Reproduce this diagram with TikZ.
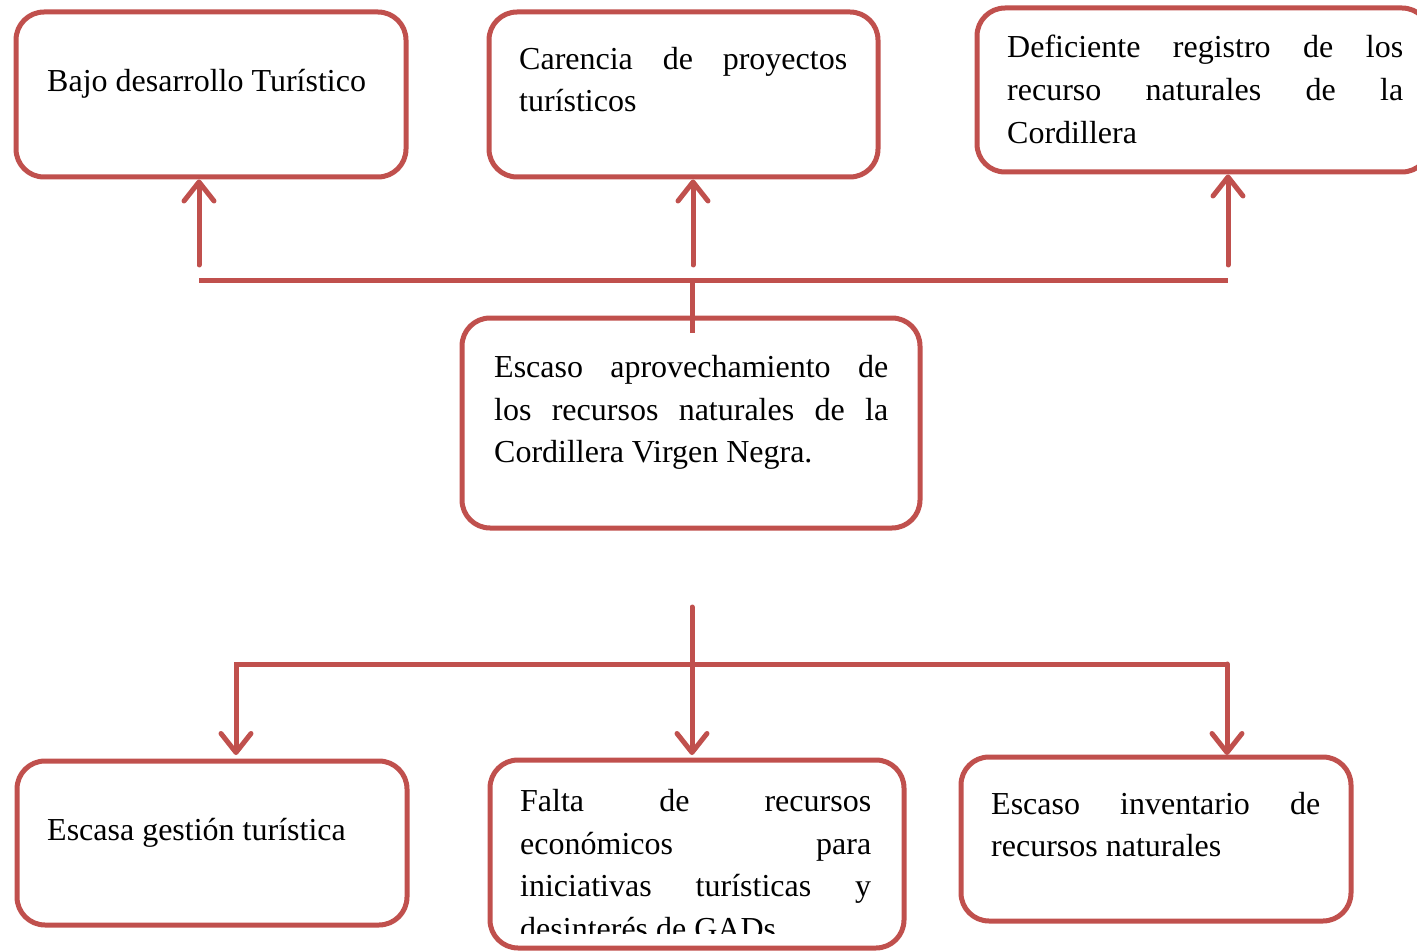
\documentclass[tikz,border=0pt]{standalone}
\usepackage{fontspec}
\setmainfont{Liberation Serif}
\usetikzlibrary{arrows.meta}
\definecolor{accred}{HTML}{C0504D}
\begin{document}
\begin{tikzpicture}[x=1pt,y=-1pt,
  box/.style={draw=accred, line width=5pt, rounded corners=28pt, rectangle, inner sep=0pt},
  txt/.style={anchor=base west, inner sep=0pt, font=\fontsize{32}{42.5}\selectfont, text=black},
  conn/.style={draw=accred, line width=5pt},
  arr/.style={conn, -{Straight Barb[length=19pt, width=30pt, line cap=round, line join=round]}, line cap=round},
]
\clip (0,0) rectangle (1417,952);
\useasboundingbox (0,0) rectangle (1417,952);

% boxes
\node[box, minimum width=390pt, minimum height=165pt] (b1) at (211,94.5) {};
\node[box, minimum width=389pt, minimum height=165pt] (b2) at (683.5,94.5) {};
\node[box, minimum width=453pt, minimum height=164pt] (b3) at (1203.5,90) {};
\node[box, minimum width=458pt, minimum height=210pt] (bc) at (691,423) {};
\node[box, minimum width=390pt, minimum height=164pt] (d1) at (212,843) {};
\node[box, minimum width=414pt, minimum height=188pt] (d2) at (697,854) {};
\node[box, minimum width=390pt, minimum height=164pt] (d3) at (1156,839) {};

% texts
\node[txt] (t1) at (47,91.5) {Bajo desarrollo Turístico};
\node[txt] (t2a) at (519,69.5) {\makebox[328pt][s]{Carencia de proyectos}};
\node[txt] (t2b) at (519,112) {turísticos};
\node[txt] (t3a) at (1007,58) {\makebox[396pt][s]{Deficiente registro de los}};
\node[txt] (t3b) at (1007,101) {\makebox[396pt][s]{recurso naturales de la}};
\node[txt] (t3c) at (1007,143.5) {Cordillera};
\node[txt] (tca) at (494,377.5) {\makebox[394pt][s]{Escaso aprovechamiento de}};
\node[txt] (tcb) at (494,420) {\makebox[394pt][s]{los recursos naturales de la}};
\node[txt] (tcc) at (494,462.5) {Cordillera Virgen Negra.};
\node[txt] (u1) at (47,840.5) {Escasa gestión turística};
\node[txt] (u2a) at (520,811.5) {\makebox[351pt][s]{Falta de recursos}};
\node[txt] (u2b) at (520,854) {\makebox[351pt][s]{económicos para}};
\node[txt] (u2c) at (520,896.5) {\makebox[351pt][s]{iniciativas turísticas y}};
\begin{scope}
\clip (500,900) rectangle (890,933);
\node[txt] (u2d) at (520,939) {desinterés de GADs};
\end{scope}
\node[txt] (u3a) at (991,814) {\makebox[329pt][s]{Escaso inventario de}};
\node[txt] (u3b) at (991,856.5) {recursos naturales};

% upper connectors
\coordinate (a1) at (199,265);
\coordinate (a2) at (693,265);
\coordinate (a3) at (1228,265);
\coordinate (busL) at (199,281);
\coordinate (busR) at (1228,281);
\coordinate (stemTop) at (692,281);
\coordinate (stemBot) at (692,333);
\draw[arr] (a1) -- (a1 |- b1.south);
\draw[arr] (a2) -- (a2 |- b2.south);
\draw[arr] (a3) -- (a3 |- b3.south);
\draw[conn] (busL) -- (busR);
\draw[conn] (stemTop) -- (stemBot);

% lower connectors
\coordinate (s0) at (692,607);
\coordinate (h1) at (236,664);
\coordinate (h3) at (1227,664);
\coordinate (e1) at (236,755);
\coordinate (e2) at (692,755);
\coordinate (e3) at (1227,755);
\draw[arr] (s0) -- (e2);
\draw[arr] (h3) -- (h1) -- (e1);
\draw[arr] (h3) -- (e3);
\end{tikzpicture}
\end{document}
